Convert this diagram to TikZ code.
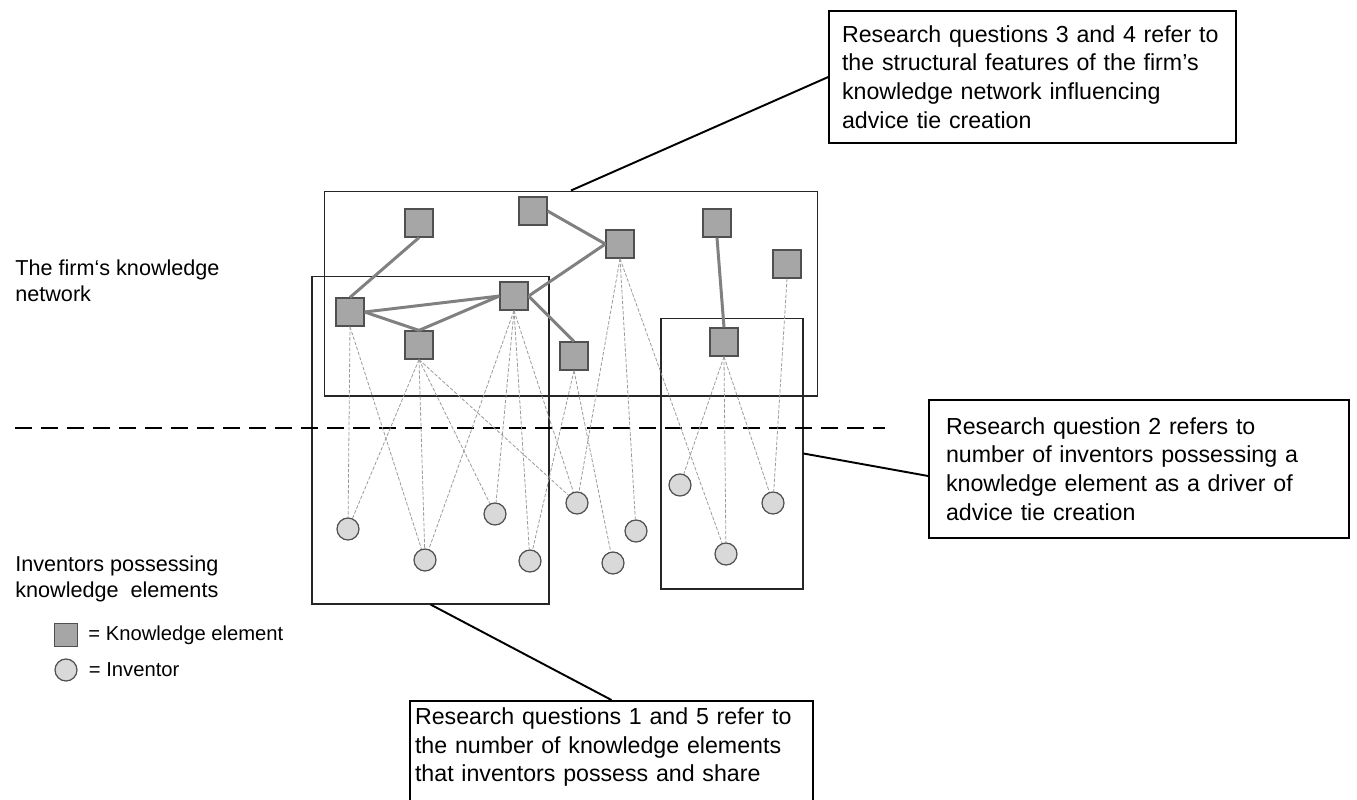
\documentclass[tikz,border=0pt]{standalone}
\usepackage{fontspec}
\setmainfont{Liberation Sans}
\usetikzlibrary{positioning}
\definecolor{elemfill}{HTML}{A6A6A6}
\definecolor{invfill}{HTML}{D9D9D9}
\definecolor{rim}{HTML}{505050}
\definecolor{tiegray}{HTML}{808080}
\definecolor{hintgray}{HTML}{9A9A9A}
\begin{document}
\begin{tikzpicture}[
    x=0.02cm, y=-0.02cm,
    elem/.style    = {rectangle, draw=rim, fill=elemfill, line width=0.7pt, minimum size=0.56cm, inner sep=0pt},
    inv/.style     = {circle, draw=rim, fill=invfill, line width=0.7pt, minimum size=0.44cm, inner sep=0pt},
    tie/.style     = {draw=tiegray, line width=1.7pt},
    poss/.style    = {draw=hintgray, line width=0.45pt, dash pattern=on 2pt off 1pt},
    frame/.style   = {draw=black!85, line width=0.6pt, inner sep=0pt},
    callout/.style = {draw=black, line width=0.9pt, align=left, inner ysep=0pt,
                      font=\fontsize{13.2}{16.3}\selectfont},
    link/.style    = {draw=black, line width=1.1pt},
    lbl/.style     = {align=left, inner sep=0pt, font=\fontsize{12.3}{15.3}\selectfont},
    keytxt/.style  = {inner sep=0pt, font=\fontsize{11.5}{14}\selectfont},
  ]
  \useasboundingbox (0,0) rectangle (1357,799);
  \clip (0,0) rectangle (1357,799);
  % Frames round the network and the inventor groups
  \node[frame, minimum width=9.88cm, minimum height=4.1cm] (netbox) at (571,293.5) {};
  \node[frame, minimum width=4.74cm, minimum height=6.56cm] (invboxa) at (430.5,440) {};
  \node[frame, minimum width=2.84cm, minimum height=5.42cm] (invboxb) at (732,453.5) {};
  % Dividing line
  \coordinate (sepl) at (15,428);
  \coordinate (sepr) at (885,428);
  \draw[line width=1.1pt, dash pattern=on 0.34cm off 0.18cm] (sepl) -- (sepr);
  % Knowledge elements
  \foreach \name/\px/\py in {k1/419/223, k2/533/211, k3/620/244, k4/717/223, k5/787/264,
                            k6/350/312, k7/514/296, k8/419/345, k9/574/356, k10/724/342} {
    \node[elem] (\name) at (\px,\py) {};
  }
  % Inventors
  \foreach \name/\px/\py in {i1/348/529, i2/425/560, i3/495/514, i4/530/561, i5/577/503,
                            i6/613/563, i7/636/531, i8/680/485, i9/726/554, i10/773/503} {
    \node[inv] (\name) at (\px,\py) {};
  }
  % Possession (dashed)
  \foreach \k/\i in {k6/i1, k6/i2, k8/i1, k8/i2, k8/i3, k8/i5, k7/i2, k7/i3, k7/i4, k7/i5,
                     k9/i4, k9/i6, k3/i5, k3/i7, k3/i9, k10/i8, k10/i9, k10/i10, k5/i10} {
    \draw[poss] (\k.south) -- (\i);
  }
  % Knowledge network ties
  \foreach \a/\b in {k1.south/k6.north, k6.east/k7.west, k6.east/k8.north, k8.north/k7.west,
                     k7.east/k3.west, k2.east/k3.west, k7.east/k9.north, k4.south/k10.north} {
    \draw[tie] (\a) -- (\b);
  }
  % Side labels
  \node[lbl, anchor=north west] (netlbl) at (15,259) {The firm‘s knowledge\\network};
  \node[lbl, anchor=north west] (invlbl) at (15,555) {Inventors possessing\\knowledge\ \ elements};
  % Legend
  \node[elem, minimum size=0.46cm] (keyelem) at (66,635) {};
  \node[keytxt, right=0.2cm of keyelem] (keyelemtxt) {= Knowledge element};
  \node[inv] (keyinv) at (66,670) {};
  \node[keytxt, right=0.22cm of keyinv] (keyinvtxt) {= Inventor};
  % Research question boxes
  \node[callout, text width=7.62cm, inner xsep=0.26cm, minimum height=2.64cm] (rqa) at (1032.5,77)
    {Research questions 3 and 4 refer to\\the structural features of the firm’s\\knowledge network influencing\\advice tie creation};
  \node[callout, text width=7.72cm, inner xsep=0.34cm, minimum height=2.76cm] (rqb) at (1139,469)
    {Research question 2 refers to\\number of inventors possessing a\\knowledge element as a driver of\\advice tie creation};
  \node[callout, text width=7.86cm, inner xsep=0.1cm, inner ysep=0.14cm, text depth=1.7cm,
        anchor=north] (rqc) at (611.5,700)
    {Research questions 1 and 5 refer to\\the number of knowledge elements\\that inventors possess and share};
  \draw[link] (netbox.north) -- (rqa.west);
  \draw[link] (invboxb.east) -- ([yshift=-0.14cm]rqb.west);
  \draw[link] (invboxa.south) -- (rqc.north);
\end{tikzpicture}
\end{document}
